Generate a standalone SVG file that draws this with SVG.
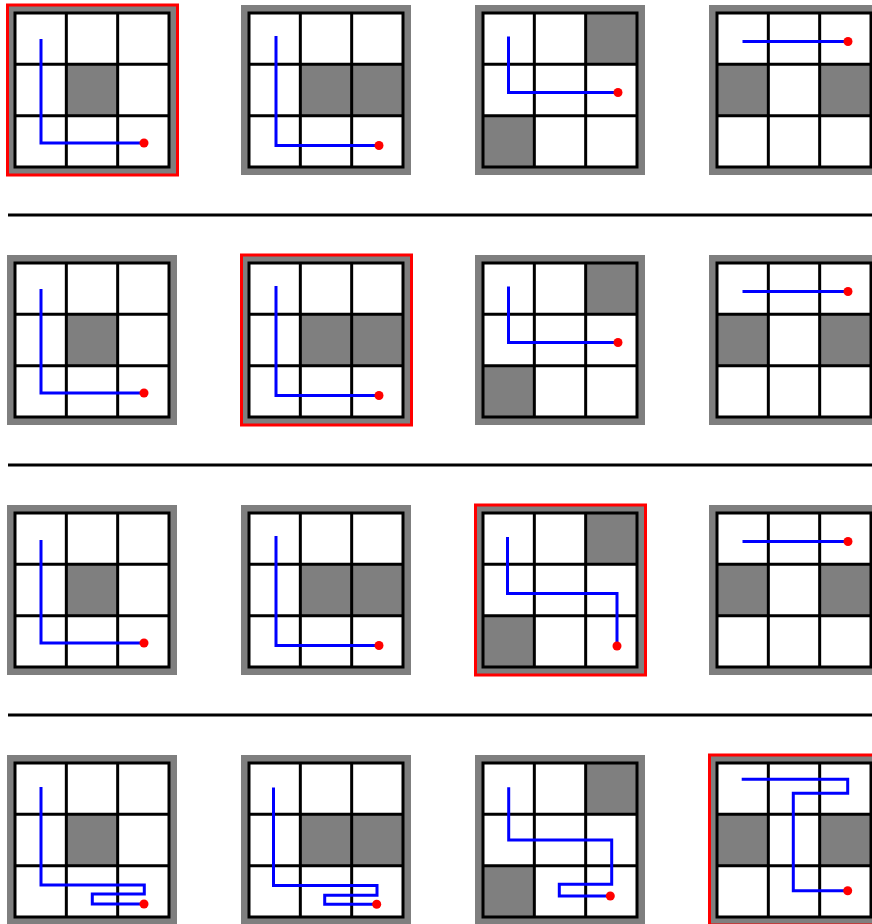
<svg xmlns="http://www.w3.org/2000/svg" xmlns:xlink="http://www.w3.org/1999/xlink" width="872" height="924" viewBox="0 0 872 924">
<style>
.frame{fill:#7f7f7f}
.cellbg{fill:#ffffff}
.wall{fill:#7f7f7f}
.gl{fill:none;stroke:#000;stroke-width:3}
.sel{fill:none;stroke:#ff0000;stroke-width:3}
.path{fill:none;stroke:#0000ff;stroke-width:3;stroke-linejoin:miter}
.dot{fill:#ff0000}
.sep{stroke:#000;stroke-width:3}
</style>
<defs>
<g id="base">
<rect class="frame" x="0" y="0" width="170" height="170"/>
<rect class="cellbg" x="8" y="8" width="154" height="154"/>
</g>
<path id="lines" class="gl" d="M8 8H162V162H8Z M59.33 8V162 M110.67 8V162 M8 59.33H162 M8 110.67H162"/>
<g id="boardA"><use xlink:href="#base"/><rect class="wall" x="59.33" y="59.33" width="51.33" height="51.33"/><use xlink:href="#lines"/></g>
<g id="boardB"><use xlink:href="#base"/><rect class="wall" x="59.33" y="59.33" width="102.67" height="51.33"/><use xlink:href="#lines"/></g>
<g id="boardC"><use xlink:href="#base"/><rect class="wall" x="110.67" y="8" width="51.33" height="51.33"/><rect class="wall" x="8" y="110.67" width="51.33" height="51.33"/><use xlink:href="#lines"/></g>
<g id="boardD"><use xlink:href="#base"/><rect class="wall" x="8" y="59.33" width="51.33" height="51.33"/><rect class="wall" x="110.67" y="59.33" width="51.33" height="51.33"/><use xlink:href="#lines"/></g>
</defs>
<rect x="0" y="0" width="872" height="924" fill="#ffffff"/>

<g id="separators">
<line class="sep" x1="8" y1="215" x2="872" y2="215"/>
<line class="sep" x1="8" y1="465" x2="872" y2="465"/>
<line class="sep" x1="8" y1="715" x2="872" y2="715"/>
</g>

<!-- Row 1 -->
<g id="r1c1"><use xlink:href="#boardA" x="7" y="5"/><rect class="sel" x="7.5" y="5" width="170" height="170"/><path class="path" d="M41 39V143H144"/><circle class="dot" cx="144" cy="143" r="4.5"/></g>
<g id="r1c2"><use xlink:href="#boardB" x="241" y="5"/><path class="path" d="M276 36V145.5H379"/><circle class="dot" cx="379" cy="145.5" r="4.5"/></g>
<g id="r1c3"><use xlink:href="#boardC" x="475" y="5"/><path class="path" d="M508.5 36.5V92.5H618"/><circle class="dot" cx="618" cy="92.5" r="4.5"/></g>
<g id="r1c4"><use xlink:href="#boardD" x="709" y="5"/><path class="path" d="M742.5 41.5H848"/><circle class="dot" cx="848" cy="41.5" r="4.5"/></g>

<!-- Row 2 -->
<g id="r2c1"><use xlink:href="#boardA" x="7" y="255"/><path class="path" d="M41 289V393H144"/><circle class="dot" cx="144" cy="393" r="4.5"/></g>
<g id="r2c2"><use xlink:href="#boardB" x="241" y="255"/><rect class="sel" x="241.5" y="255" width="170" height="170"/><path class="path" d="M276 286V395.5H379"/><circle class="dot" cx="379" cy="395.5" r="4.5"/></g>
<g id="r2c3"><use xlink:href="#boardC" x="475" y="255"/><path class="path" d="M508.5 286.5V342.5H618"/><circle class="dot" cx="618" cy="342.5" r="4.5"/></g>
<g id="r2c4"><use xlink:href="#boardD" x="709" y="255"/><path class="path" d="M742.5 291.5H848"/><circle class="dot" cx="848" cy="291.5" r="4.5"/></g>

<!-- Row 3 -->
<g id="r3c1"><use xlink:href="#boardA" x="7" y="505"/><path class="path" d="M41 540V643H144"/><circle class="dot" cx="144" cy="643" r="4.5"/></g>
<g id="r3c2"><use xlink:href="#boardB" x="241" y="505"/><path class="path" d="M276 536V645.5H379"/><circle class="dot" cx="379" cy="645.5" r="4.5"/></g>
<g id="r3c3"><use xlink:href="#boardC" x="475" y="505"/><rect class="sel" x="475.5" y="505" width="170" height="170"/><path class="path" d="M507.5 537V593.5H617V646"/><circle class="dot" cx="617" cy="646" r="4.5"/></g>
<g id="r3c4"><use xlink:href="#boardD" x="709" y="505"/><path class="path" d="M742.5 541.5H848"/><circle class="dot" cx="848" cy="541.5" r="4.5"/></g>

<!-- Row 4 -->
<g id="r4c1"><use xlink:href="#boardA" x="7" y="755"/><path class="path" d="M41 787V885H144.3V894H92.3V904H144"/><circle class="dot" cx="144" cy="904" r="4.5"/></g>
<g id="r4c2"><use xlink:href="#boardB" x="241" y="755"/><path class="path" d="M273.5 787.5V885.5H377V895.3H324.7V904.3H376.7"/><circle class="dot" cx="376.7" cy="904.3" r="4.5"/></g>
<g id="r4c3"><use xlink:href="#boardC" x="475" y="755"/><path class="path" d="M508.7 787.3V840H611.7V884.3H559.3V896H610.3"/><circle class="dot" cx="610.3" cy="896" r="4.5"/></g>
<g id="r4c4"><use xlink:href="#boardD" x="709" y="755"/><rect class="sel" x="709.5" y="755" width="170" height="170"/><path class="path" d="M741.7 779.3H847.7V793.3H793.3V890.7H847.7"/><circle class="dot" cx="847.7" cy="890.7" r="4.5"/></g>
</svg>
